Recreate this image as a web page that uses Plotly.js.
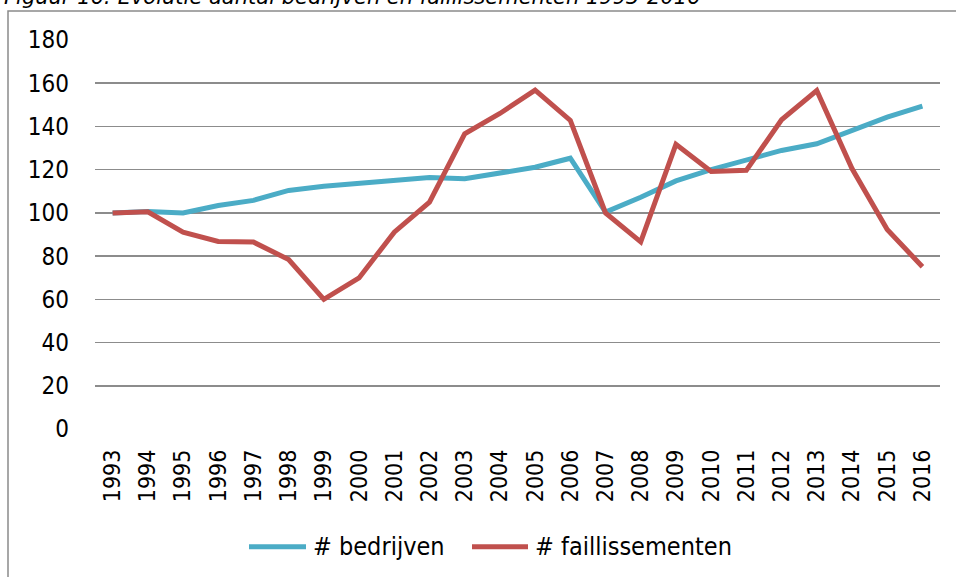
<!DOCTYPE html>
<html>
<head>
<meta charset="utf-8">
<script src="https://cdn.plot.ly/plotly-3.0.1.min.js"></script>
<style>html,body{margin:0;padding:0;background:#fff;}#chart{width:956px;height:577px;}</style>
</head>
<body>
<div id="chart"></div>
<script>
const years = ["1993","1994","1995","1996","1997","1998","1999","2000","2001","2002","2003","2004","2005","2006","2007","2008","2009","2010","2011","2012","2013","2014","2015","2016"];
const bedrijven = [100,100.7,100,103.4,105.8,110.4,112.3,113.7,115.2,116.4,115.8,118.7,121.1,125.3,100.4,107.2,114.8,120,124.7,128.9,132,138.2,144.3,149.4];
const faillissementen = [100,100.5,91.1,86.8,86.5,78.4,60,69.9,91.1,105,136.6,146,156.8,142.8,100,86.6,131.7,119.2,119.7,143.1,156.6,120.5,92.3,75.1];
const yTicks = [0,20,40,60,80,100,120,140,160,180];
const titleText = "Figuur 16: Evolutie aantal bedrijven en faillissementen 1993-2016";
const seriesNames = ["# bedrijven", "# faillissementen"];
const seriesColors = ["#4BACC6", "#C0504D"];

const L = 95, R = 940, T = 39.5, B = 429;
const px = x => (x - L) / (R - L);
const py = y => (B - y) / (B - T);
const FONT = "DejaVu Sans Condensed, DejaVu Sans, sans-serif";

const traces = [
  {x: years, y: bedrijven, name: seriesNames[0], type: "scatter", mode: "lines",
   line: {color: seriesColors[0], width: 5}},
  {x: years, y: faillissementen, name: seriesNames[1], type: "scatter", mode: "lines",
   line: {color: seriesColors[1], width: 5}}
];

// legend drawn as keys next to the plot (positions in pixels of the page)
const legendKeys = [
  {x0: 249, x1: 306, tx: 311},
  {x0: 472, x1: 528, tx: 533}
];
const legendY = 547;

const shapes = [
  {type: "rect", xref: "paper", yref: "paper", x0: px(8), x1: px(965), y0: py(590), y1: py(10.5),
   line: {color: "#8a8a8a", width: 1.5}, fillcolor: "rgba(0,0,0,0)", layer: "below"}
];
const annotations = [
  {text: "<i>" + titleText + "</i>", xref: "paper", yref: "paper",
   x: px(2), xanchor: "left", y: py(-4), yanchor: "middle", showarrow: false,
   font: {size: 21, family: "DejaVu Sans, sans-serif", color: "#000000"}}
];
legendKeys.forEach((k, i) => {
  shapes.push({type: "line", xref: "paper", yref: "paper", x0: px(k.x0), x1: px(k.x1),
               y0: py(legendY), y1: py(legendY), line: {color: seriesColors[i], width: 5}});
  annotations.push({text: seriesNames[i], xref: "paper", yref: "paper", x: px(k.tx), xanchor: "left",
                    y: py(legendY), yanchor: "middle", showarrow: false,
                    font: {size: 25, family: FONT, color: "#000000"}});
});

const layout = {
  width: 956, height: 577,
  margin: {l: L, r: 956 - R, t: T, b: 577 - B, pad: 0},
  paper_bgcolor: "#ffffff", plot_bgcolor: "#ffffff",
  font: {family: FONT, color: "#000000"},
  showlegend: false,
  xaxis: {type: "category", range: [-0.5, years.length - 0.5], tickangle: -90,
          showgrid: false, showline: false, zeroline: false, ticks: "",
          tickfont: {size: 23, family: FONT},
          ticklabelstandoff: 15, fixedrange: true},
  yaxis: {range: [0, 180], tickvals: yTicks, ticktext: yTicks.map(String),
          showgrid: true, gridcolor: "#8c8c8c", gridwidth: 1.6,
          zeroline: false, showline: false, ticks: "",
          tickfont: {size: 24, family: FONT},
          ticklabelstandoff: 25, fixedrange: true},
  annotations: annotations,
  shapes: shapes
};

Plotly.newPlot("chart", traces, layout, {displayModeBar: false, staticPlot: true});
</script>
</body>
</html>
